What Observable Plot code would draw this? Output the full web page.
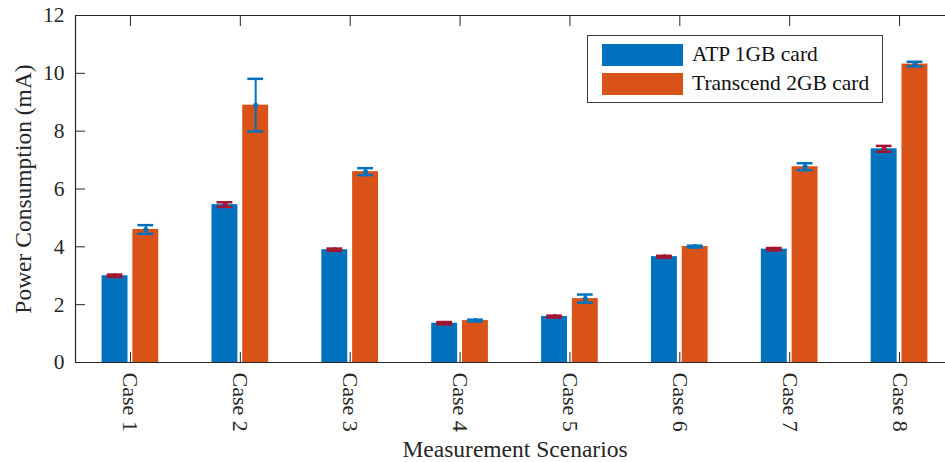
<!DOCTYPE html>
<html>
<head>
<meta charset="utf-8">
<script src="https://cdn.jsdelivr.net/npm/d3@7"></script>
<script src="https://cdn.jsdelivr.net/npm/@observablehq/plot@0.6"></script>
<style>
  body { margin: 0; background: #ffffff; }
  #wrap { position: relative; width: 945px; height: 462px; overflow: hidden;
          font-family: "Liberation Serif", "Times New Roman", serif; color: #262626; }
  #legend { position: absolute; left: 587px; top: 35px; width: 294px; height: 66px;
            border: 1px solid #3a3a3a; background: #ffffff; }
  .item { position: absolute; left: 14px; height: 22px; }
  .sw { position: absolute; left: 0; top: 0; width: 81px; height: 22px; }
  .lab { position: absolute; left: 90px; top: -3px; font-size: 21.5px; line-height: 27px; white-space: nowrap; color: #111; }
</style>
</head>
<body>
<div id="wrap"></div>
<script>
// ---- data ----
const cases = ["Case 1", "Case 2", "Case 3", "Case 4", "Case 5", "Case 6", "Case 7", "Case 8"];
const seriesNames = ["ATP 1GB card", "Transcend 2GB card"];
const atpValues = [3.0, 5.46, 3.9, 1.36, 1.59, 3.66, 3.92, 7.39];
const atpErrors = [0.04, 0.08, 0.04, 0.04, 0.03, 0.03, 0.04, 0.1];
const transcendValues = [4.6, 8.9, 6.6, 1.45, 2.21, 4.01, 6.77, 10.32];
const transcendErrors = [0.15, 0.91, 0.12, 0.03, 0.14, 0.03, 0.12, 0.08];
const yTicks = [0, 2, 4, 6, 8, 10, 12];
const xTicks = [1, 2, 3, 4, 5, 6, 7, 8];
const barColors = ["#0072BD", "#D95319"];
const errColors = ["#A2142F", "#0072BD"];
const yLabel = "Power Consumption (mA)";
const xLabel = "Measurement Scenarios";

// ---- build table ----
const offsets = [-0.14, 0.14];
const halfWidth = 0.118;
const capHalf = 0.072;
const seriesVals = [atpValues, transcendValues];
const seriesErrs = [atpErrors, transcendErrors];

const font = "Liberation Serif, Times New Roman, serif";
const ink = "#262626";

const marks = [];
seriesNames.forEach((name, s) => {
  const rows = cases.map((c, i) => ({
    k: i + 1, xc: i + 1 + offsets[s], v: seriesVals[s][i], e: seriesErrs[s][i]
  }));
  marks.push(Plot.rectY(rows, {
    x1: d => d.xc - halfWidth, x2: d => d.xc + halfWidth, y1: 0, y2: "v",
    fill: barColors[s]
  }));
});
seriesNames.forEach((name, s) => {
  const rows = cases.map((c, i) => ({
    k: i + 1, xc: i + 1 + offsets[s], v: seriesVals[s][i], e: seriesErrs[s][i]
  }));
  const col = errColors[s];
  marks.push(Plot.ruleX(rows, {x: "xc", y1: d => d.v - d.e, y2: d => d.v + d.e, stroke: col, strokeWidth: 2}));
  marks.push(Plot.ruleY(rows, {y: d => d.v + d.e, x1: d => d.xc - capHalf, x2: d => d.xc + capHalf, stroke: col, strokeWidth: 2.5}));
  marks.push(Plot.ruleY(rows, {y: d => d.v - d.e, x1: d => d.xc - capHalf, x2: d => d.xc + capHalf, stroke: col, strokeWidth: 2.5}));
  marks.push(Plot.dot(rows, {x: "xc", y: "v", r: 2.5, fill: col, stroke: null}));
});

// box
marks.push(Plot.ruleY([0, 12], {x1: 0.5, x2: 8.5, stroke: ink, strokeWidth: 1.2}));
marks.push(Plot.ruleX([0.5, 8.5], {y1: 0, y2: 12, stroke: ink, strokeWidth: 1.2}));

// inward ticks
marks.push(Plot.axisY(yTicks, {anchor: "left", tickSize: -10, tickFormat: () => "", label: null, stroke: ink}));
marks.push(Plot.axisY(yTicks, {anchor: "right", tickSize: -10, tickFormat: () => "", label: null, stroke: ink}));
marks.push(Plot.axisX(xTicks, {anchor: "bottom", tickSize: -10, tickFormat: () => "", label: null, stroke: ink}));
marks.push(Plot.axisX(xTicks, {anchor: "top", tickSize: -10, tickFormat: () => "", label: null, stroke: ink}));

// tick labels
marks.push(Plot.axisY(yTicks, {anchor: "left", tickSize: 0, tickPadding: 11, label: null, fontSize: 21.5, fill: ink}));
marks.push(Plot.axisX(xTicks, {anchor: "bottom", tickSize: 0, tickPadding: 10, tickRotate: 90,
  tickFormat: k => cases[k - 1], label: null, fontSize: 22, fill: ink}));

// axis titles
marks.push(Plot.text([yLabel], {frameAnchor: "left", rotate: -90, dx: -52, textAnchor: "middle", lineAnchor: "middle", fontSize: 23.5, fill: ink}));
marks.push(Plot.text([xLabel], {frameAnchor: "bottom", dy: 87, textAnchor: "middle", lineAnchor: "middle", fontSize: 23.5, fill: ink}));

const chart = Plot.plot({
  width: 945,
  height: 462,
  marginLeft: 75,
  marginRight: -9,
  marginTop: 15,
  marginBottom: 100,
  style: {fontFamily: font, background: "transparent", color: ink},
  x: {type: "linear", domain: [0.5, 8.5], range: [75, 954]},
  y: {type: "linear", domain: [0, 12], range: [362, 15]},
  marks
});

const wrap = document.getElementById("wrap");
wrap.appendChild(chart);

// legend
const legend = document.createElement("div");
legend.id = "legend";
seriesNames.forEach((name, s) => {
  const item = document.createElement("div");
  item.className = "item";
  item.style.top = (s === 0 ? 8 : 37) + "px";
  const sw = document.createElement("div");
  sw.className = "sw";
  sw.style.background = barColors[s];
  const lab = document.createElement("div");
  lab.className = "lab";
  lab.textContent = name;
  item.appendChild(sw);
  item.appendChild(lab);
  legend.appendChild(item);
});
wrap.appendChild(legend);
</script>
</body>
</html>
